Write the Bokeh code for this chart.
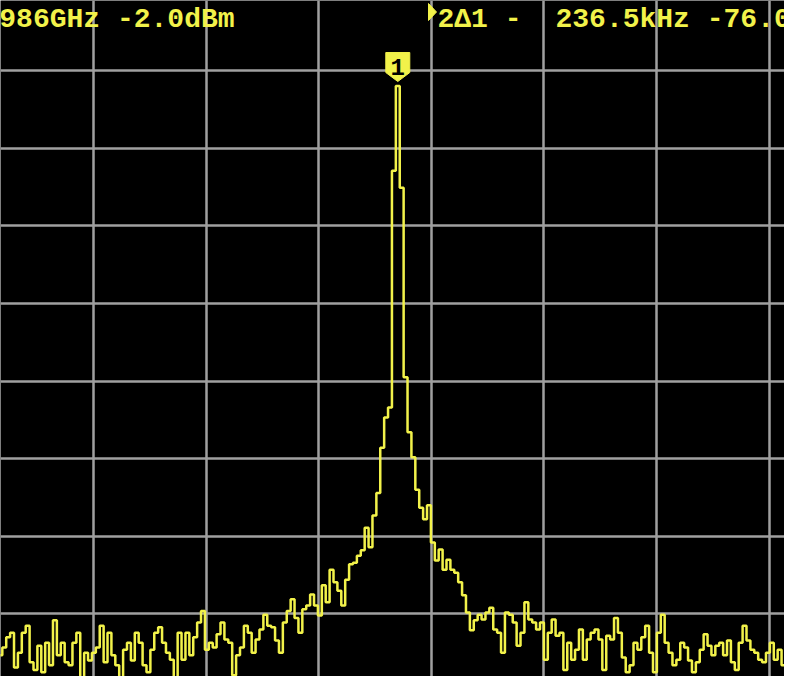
import numpy as np
from bokeh.plotting import figure
from bokeh.models import Range1d, FixedTicker, Label
from bokeh.core.properties import value
from bokeh.embed import file_html
from bokeh.resources import INLINE

# ---- sweep settings (tinySA-style, 290 points over 10 divisions) ----
START_KHZ = 0.0
STOP_KHZ = 1000.0
SWEEP_POINTS = 290
FIRST_SHOWN = 3          # sweep index of the first level listed below

# ---- trace levels (dBm), one per sweep point ----
LEVEL_DBM = [
    -75.3, -74.6, -75.3, -74.3, -73.0, -72.4, -76.9, -75.0, -72.4, -71.5,
    -76.2, -77.2, -74.1, -77.5, -73.7, -76.6, -70.8, -75.3, -73.7, -76.2,
    -76.6, -73.7, -72.4, -78.6, -75.0, -76.0, -75.0, -74.3, -71.5, -76.2,
    -72.4, -75.3, -76.6, -78.8, -74.6, -73.7, -76.0, -72.4, -73.7, -76.6,
    -77.5, -74.6, -72.4, -71.7, -73.7, -75.0, -75.9, -78.8, -72.4, -75.9,
    -72.4, -75.3, -73.0, -71.1, -69.6, -74.6, -73.7, -74.3, -72.6, -71.1,
    -73.3, -73.7, -77.9, -75.3, -74.3, -71.5, -72.4, -75.0, -73.3, -72.0,
    -70.1, -71.5, -71.7, -73.4, -75.0, -71.1, -69.6, -68.1, -70.5, -72.4,
    -69.4, -68.9, -67.5, -68.9, -70.2, -66.3, -68.5, -64.3, -65.9, -67.0,
    -68.9, -65.6, -63.6, -63.4, -62.5, -61.8, -58.9, -61.4, -57.3, -54.4,
    -48.6, -44.7, -43.4, -12.9, -2.0, -15.1, -39.5, -46.6, -49.8, -54.0,
    -56.3, -57.8, -56.0, -60.8, -63.1, -61.7, -64.3, -63.0, -64.3, -64.7,
    -65.9, -67.6, -69.8, -72.1, -70.8, -70.1, -70.7, -69.8, -69.2, -72.0,
    -72.4, -75.0, -69.8, -70.1, -71.1, -74.1, -72.4, -68.5, -70.7, -71.1,
    -72.0, -71.1, -75.9, -72.4, -70.7, -72.8, -72.4, -77.2, -73.7, -75.9,
    -74.6, -72.0, -75.9, -73.3, -72.4, -72.0, -73.3, -77.2, -72.8, -73.3,
    -70.5, -72.4, -75.6, -77.5, -76.6, -73.7, -74.6, -73.0, -71.5, -75.0,
    -77.5, -72.4, -70.1, -73.7, -75.0, -76.6, -75.9, -73.7, -74.3, -76.0,
    -77.5, -76.2, -74.6, -72.6, -74.1, -75.3, -74.1, -73.7, -75.3, -73.4,
    -76.2, -77.2, -73.7, -71.5, -73.4, -74.6, -75.0, -75.9, -76.2, -75.0,
    -73.7, -75.9, -74.6, -76.6, -75.9, -72.8, -72.4,
]

# ---- graticule ----
GRID_KHZ = [0, 100, 200, 300, 400, 500, 600, 700, 800, 900, 1000]
GRID_DBM = [10, 0, -10, -20, -30, -40, -50, -60, -70, -80]

# ---- readouts ----
MARKER1_TEXT = "9986GHz -2.0dBm"
DELTA_NAME = "2\u03941 -"
DELTA_TEXT = "236.5kHz -76.0dB"
MARKER_ID = "1"

W, H = 784, 676
X0, X1 = 17.41, 713.68
Y0, Y1 = -78.05, 9.016
XS = W / (X1 - X0)   # px per kHz
YS = H / (Y1 - Y0)   # px per dB

step = (STOP_KHZ - START_KHZ) / (SWEEP_POINTS - 1)
freq = [START_KHZ + (FIRST_SHOWN + k) * step for k in range(len(LEVEL_DBM))]

YELLOW = "#f2f24a"
GRID = "#a0a0a0"

p = figure(width=W, height=H, x_range=Range1d(X0, X1), y_range=Range1d(Y0, Y1),
           output_backend="svg", toolbar_location=None, min_border=0)
p.background_fill_color = "black"
p.border_fill_color = "black"
p.outline_line_color = None
p.axis.visible = False
p.xgrid.ticker = FixedTicker(ticks=GRID_KHZ)
p.ygrid.ticker = FixedTicker(ticks=GRID_DBM)
for g in (p.xgrid, p.ygrid):
    g.grid_line_color = GRID
    g.grid_line_width = 2.5
    g.grid_line_alpha = 1.0

p.step(freq, LEVEL_DBM, mode="center", line_color=YELLOW, line_width=2.5)

# ---- marker 1 flag on the peak ----
i_pk = int(np.argmax(LEVEL_DBM))
fx, fy = freq[i_pk], LEVEL_DBM[i_pk]
tip = fy + 4.5 / YS
hw = 12 / XS
flag_x = [fx, fx - hw, fx - hw, fx + hw, fx + hw]
flag_y = [tip, tip + 9 / YS, tip + 29 / YS, tip + 29 / YS, tip + 9 / YS]
p.patch(flag_x, flag_y, fill_color=YELLOW, line_color=YELLOW, line_width=1)
p.text([fx], [tip + 15 / YS], text=[MARKER_ID], text_align="center",
       text_baseline="middle", text_color="black",
       text_font=value("Liberation Mono"), text_font_style="bold",
       text_font_size="24px")

# ---- readout texts ----
def label(txt, x, y):
    p.add_layout(Label(x=x, y=y, x_units="screen", y_units="screen", text=txt,
                       text_font="Liberation Mono", text_font_style="bold",
                       text_font_size="28px", text_color=YELLOW,
                       text_baseline="alphabetic"))

base = H - (27 - 8)
label(MARKER1_TEXT, -18, base)
label(DELTA_NAME, 437, base)
label(DELTA_TEXT, 555, base)

# active-marker pointer in front of the delta readout
ax = X0 + (436 - 8) / XS
ay_top = Y1 - (11 - 8) / YS
ay_bot = Y1 - (28 - 8) / YS
p.patch([ax, ax + 8 / XS, ax], [ay_top, (ay_top + ay_bot) / 2, ay_bot],
        fill_color=YELLOW, line_color=YELLOW)

open("out.html", "w").write(file_html(p, INLINE))
